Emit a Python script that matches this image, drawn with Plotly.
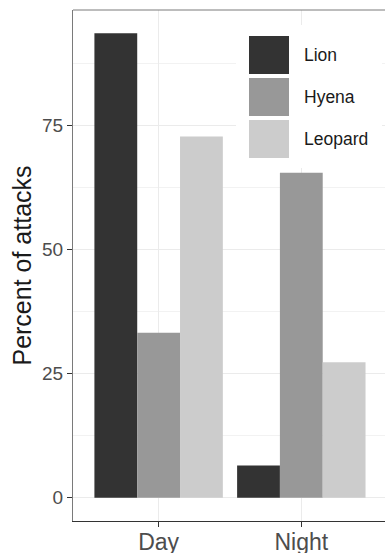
import plotly.graph_objects as go

# ---- data ----
periods = ["Day", "Night"]
species = ["Lion", "Hyena", "Leopard"]
lion = [93.5, 6.5]
hyena = [33.2, 65.4]
leopard = [72.7, 27.3]
colors = ["#333333", "#989898", "#CCCCCC"]
y_ticks = [0, 25, 50, 75]

series = [lion, hyena, leopard]

W, H = 385, 553
ML, MR, MT, MB = 73, 0, 10, 32
PW, PH = W - ML - MR, H - MT - MB

fig = go.Figure()
for name, vals, col in zip(species, series, colors):
    fig.add_trace(go.Bar(x=periods, y=vals, name=name, marker_color=col,
                         marker_line_width=0, showlegend=False))

ymax = max(max(s) for s in series)
pad = 0.05 * ymax
cat_px = 142.7
x_right = -0.6 + PW / cat_px

font_family = "Liberation Sans, Arial, sans-serif"

fig.update_layout(
    width=W, height=H,
    margin=dict(l=ML, r=MR, t=MT, b=MB, pad=0, autoexpand=False),
    paper_bgcolor="white", plot_bgcolor="white",
    barmode="group", bargap=0.1, bargroupgap=0,
    font=dict(family=font_family, color="#4D4D4D"),
    xaxis=dict(range=[-0.6, x_right], showgrid=True, gridcolor="#EBEBEB", gridwidth=1.1,
               showline=True, linecolor="#333333", linewidth=1.3,
               ticks="outside", ticklen=5, tickcolor="#333333", tickwidth=1.1,
               ticklabelstandoff=-5,
               tickfont=dict(size=23, color="#4D4D4D"), zeroline=False, automargin=False),
    yaxis=dict(range=[-pad, ymax + pad], tickvals=y_ticks, ticktext=[str(v) for v in y_ticks],
               showgrid=True, gridcolor="#EBEBEB", gridwidth=1.1,
               minor=dict(dtick=12.5, showgrid=True, gridcolor="#F2F2F2", gridwidth=0.6, ticklen=0),
               showline=True, linecolor="#7A7A7A", linewidth=1,
               ticks="outside", ticklen=5, tickcolor="#333333", tickwidth=1.1,
               tickfont=dict(size=19, color="#4D4D4D"), zeroline=False, automargin=False,
               title=dict(text="Percent of attacks", font=dict(size=25, color="#1A1A1A"), standoff=3)),
)

# top border
fig.add_shape(type="line", xref="paper", yref="paper", x0=0, x1=1, y0=1, y1=1,
              line=dict(color="#7A7A7A", width=1))

# ---- custom legend (large keys like ggplot) ----
def px_x(p):
    return (p - ML) / PW

def px_y(p):
    return (MT + PH - p) / PH

fig.add_shape(type="rect", xref="paper", yref="paper",
              x0=px_x(236), x1=px_x(382), y0=px_y(168), y1=px_y(25),
              fillcolor="white", line=dict(width=0), layer="above")
key_x0, key_w = 249, 40
row_top, row_h, key_h = 36, 42, 38
for i, (name, col) in enumerate(zip(species, colors)):
    top = row_top + i * row_h
    fig.add_shape(type="rect", xref="paper", yref="paper",
                  x0=px_x(key_x0), x1=px_x(key_x0 + key_w),
                  y0=px_y(top + key_h), y1=px_y(top),
                  fillcolor=col, line=dict(width=0), layer="above")
    fig.add_annotation(xref="paper", yref="paper", x=px_x(key_x0 + key_w + 13),
                       y=px_y(top + key_h / 2), text=name, showarrow=False,
                       xanchor="left", yanchor="middle",
                       font=dict(size=17.5, color="#1A1A1A", family=font_family))

fig.write_html("out.html", config={"displayModeBar": False},
               post_script="document.body.style.margin='0';document.body.style.overflow='hidden';")
